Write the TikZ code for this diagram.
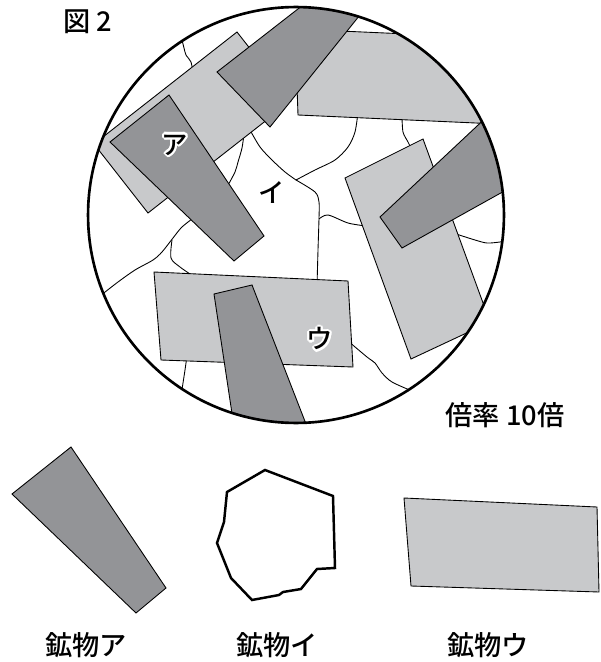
\documentclass[tikz,border=0pt]{standalone}
\usepackage{fontspec}
\newfontfamily\jpfont{Noto Sans CJK JP Medium}
\usepackage{contour}
\contourlength{1.2pt}
\definecolor{darkmin}{RGB}{147,148,151}
\definecolor{lightmin}{RGB}{200,201,203}

\begin{document}
\begin{tikzpicture}[x=0.02cm, y=-0.02cm,
    darkgrain/.style={fill=darkmin, draw=black, line width=0.5pt},
    lightgrain/.style={fill=lightmin, draw=black, line width=0.5pt},
    crack/.style={draw=black, line width=0.5pt},
    lens/.style={draw=black, line width=1.5pt},
    caption/.style={font=\jpfont\fontsize{15.5}{18}\selectfont, inner sep=0pt},
    tag/.style={font=\jpfont\fontsize{15}{18}\selectfont, inner sep=0pt}]

\fill[white] (0,0) rectangle (600,662);
\useasboundingbox (0,0) rectangle (600,662);

% view through the microscope
\begin{scope}
  \clip (296,215) circle [radius=4.16cm];
  % grain boundaries
  \draw[crack] plot[smooth] coordinates {(181,36) (184,48) (186,55) (191,62) (193,74)};
  \draw[crack] plot[smooth] coordinates {(244,134) (242,148) (238,162) (235,172) (227,187)};
  \draw[crack] plot[smooth] coordinates {(250,130) (260,147) (272,160) (285,172) (296,180)};
  \draw[crack] plot[smooth] coordinates {(296,180) (315,170) (335,160) (348,147) (355,132) (358,112)};
  \draw[crack] plot[smooth] coordinates {(296,180) (315,192) (319,202) (319,218) (318,250) (317,286)};
  \draw[crack] plot[smooth] coordinates {(402,116) (403,132) (408,142) (412,150)};
  \draw[crack] plot[smooth] coordinates {(196,216) (182,227) (173,238) (162,252) (153,260) (135,270) (118,282) (100,296)};
  \draw[crack] plot[smooth] coordinates {(172,240) (171,258) (180,267) (193,276)};
  \draw[crack] plot[smooth] coordinates {(187,356) (185,370) (183,383) (181,396)};
  \draw[crack] plot[smooth] coordinates {(319,219) (328,215) (348,223) (366,226)};
  \draw[crack] plot[smooth] coordinates {(453,233) (475,240) (487,243) (500,242) (512,240)};
  \draw[crack] plot[smooth] coordinates {(348,341) (367,357) (375,363) (382,373) (392,382) (412,391)};
  % grains
  \draw[lightgrain] (94,144) -- (237,32) -- (291,101) -- (148,213) -- cycle;
  \draw[lightgrain] (298,115) -- (295,29) -- (520,39) -- (520,125) -- cycle;
  \draw[darkgrain] (217,72) -- (270,127) -- (380,-10) -- (330,-16) -- cycle;
  \draw[darkgrain] (110,142) -- (169,95) -- (264,236) -- (234,261) -- cycle;
  \draw[lightgrain] (345,178) -- (423,139) -- (490,322) -- (411,359) -- cycle;
  \draw[darkgrain] (380,217) -- (402,248) -- (560,160) -- (540,67) -- cycle;
  \draw[lightgrain] (154,272) -- (348,281) -- (353,367) -- (161,360) -- cycle;
  \draw[darkgrain] (214,294) -- (252,285) -- (320,460) -- (239,460) -- cycle;
\end{scope}
\draw[lens] (296,215) circle [radius=4.16cm];

\node[tag] (labA) at (175,146) {\contour{white}{ア}};
\node[tag] (labI) at (272,193) {イ};
\node[tag] (labU) at (320,340) {\contour{white}{ウ}};

\node[caption] (fig) at (88,22) {図 2};
\node[caption] (mag) at (505,415) {倍率 10倍};

% the three minerals on their own
\draw[darkgrain] (71,447) -- (12,494) -- (136,613) -- (166,588) -- cycle;
\draw[line width=1.4pt, line join=miter] (265,470) -- (333,496) -- (335,568) -- (317,569)
  -- (301,589) -- (283,592) -- (279,595) -- (252,600) -- (231,578) -- (217,543)
  -- (224,522) -- (227,492) -- cycle;
\draw[lightgrain] (404,498) -- (597,507) -- (599,592) -- (411,586) -- cycle;

\node[caption] (nameA) at (86,645) {鉱物ア};
\node[caption] (nameI) at (277,645) {鉱物イ};
\node[caption] (nameU) at (488,645) {鉱物ウ};
\end{tikzpicture}
\end{document}
